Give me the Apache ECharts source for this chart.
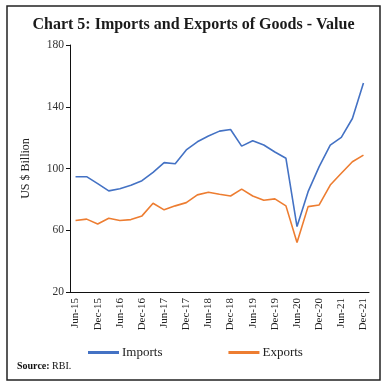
<!DOCTYPE html>
<html>
<head>
<meta charset="utf-8">
<script src="https://cdn.jsdelivr.net/npm/echarts@6/dist/echarts.min.js"></script>
<style>html,body{margin:0;padding:0;background:#fff}#c{width:387px;height:388px}</style>
</head>
<body>
<div id="c"></div>
<script>
var categories = ['Jun-15','Sep-15','Dec-15','Mar-16','Jun-16','Sep-16','Dec-16','Mar-17','Jun-17','Sep-17','Dec-17','Mar-18','Jun-18','Sep-18','Dec-18','Mar-19','Jun-19','Sep-19','Dec-19','Mar-20','Jun-20','Sep-20','Dec-20','Mar-21','Jun-21','Sep-21','Dec-21'];
var imports = [94.7, 94.7, 90.2, 85.5, 86.9, 89.1, 92.1, 97.5, 103.8, 103.1, 112.0, 117.3, 121.0, 124.2, 125.3, 114.5, 118.0, 115.2, 110.7, 106.6, 62.4, 85.0, 101.2, 115.2, 120.2, 132.4, 155.4];
var exports_ = [66.3, 67.2, 64.1, 67.8, 66.3, 66.9, 69.3, 77.5, 73.2, 75.8, 77.9, 82.9, 84.6, 83.3, 82.2, 86.6, 82.2, 79.4, 80.3, 75.8, 52.0, 75.3, 76.4, 89.3, 96.9, 104.4, 108.7];
var yTicks = [20, 60, 100, 140, 180];

var serif = '"Liberation Serif", "DejaVu Serif", serif';
var chart = echarts.init(document.getElementById('c'));
chart.setOption({
  animation: false,
  backgroundColor: '#fff',
  title: {
    text: 'Chart 5: Imports and Exports of Goods - Value',
    left: 'center', top: 12,
    textStyle: { fontFamily: serif, fontSize: 16, fontWeight: 'bold', color: '#1a1a1a' }
  },
  legend: {
    left: 83, top: 341, itemWidth: 31, itemHeight: 3, itemGap: 66,
    icon: 'rect',
    textStyle: { fontFamily: serif, fontSize: 13, color: '#222', padding: [0,0,0,-2] },
    data: ['Imports', 'Exports']
  },
  grid: { left: 70, right: 18, top: 45, bottom: 96, containLabel: false },
  xAxis: {
    type: 'category', data: categories, boundaryGap: true,
    axisLine: { lineStyle: { color: '#111', width: 1 } },
    axisTick: { interval: 0, length: 4, lineStyle: { color: '#111' } },
    axisLabel: { interval: 1, rotate: 90, fontFamily: serif, fontSize: 11, color: '#222', margin: 6 },
    splitLine: { show: false }
  },
  yAxis: {
    type: 'value', min: yTicks[0], max: yTicks[yTicks.length-1], interval: 40,
    name: 'US $ Billion', nameLocation: 'middle', nameGap: 38,
    nameTextStyle: { fontFamily: serif, fontSize: 12, color: '#222' },
    axisLine: { show: true, lineStyle: { color: '#111', width: 1 } },
    axisTick: { show: true, length: 4, lineStyle: { color: '#111' } },
    axisLabel: { fontFamily: serif, fontSize: 11.5, color: '#333', margin: 6 },
    splitLine: { show: false }
  },
  series: [
    { name: 'Imports', type: 'line', data: imports, symbol: 'none', color: '#4472C4', lineStyle: { width: 1.6, color: '#4472C4' } },
    { name: 'Exports', type: 'line', data: exports_, symbol: 'none', color: '#ED7D31', lineStyle: { width: 1.6, color: '#ED7D31' } }
  ],
  graphic: [
    { type: 'rect', shape: { x: 7, y: 6, width: 373, height: 374 }, style: { fill: 'none', stroke: '#222', lineWidth: 1.5 }, silent: true },
    { type: 'text', left: 17, top: 361, style: { text: '{b|Source:} RBI.', rich: { b: { fontWeight: 'bold', fontFamily: serif, fontSize: 10, fill: '#111' } }, fontFamily: serif, fontSize: 10, fill: '#111' } }
  ]
});
</script>
</body>
</html>
